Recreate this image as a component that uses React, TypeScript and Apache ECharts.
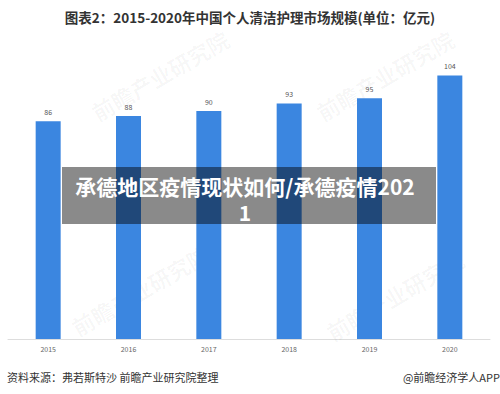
import React, { useEffect, useRef } from "react";
import * as echarts from "echarts";

const years = ["2015", "2016", "2017", "2018", "2019", "2020"];
const values = [86, 88, 90, 93, 95, 104];
const titleText = "图表2：2015-2020年中国个人清洁护理市场规模(单位：亿元)";
const bannerLines = ["承德地区疫情现状如何/承德疫情202", "1"];
const sourceText = "资料来源：弗若斯特沙 前瞻产业研究院整理";
const brandText = "@前瞻经济学人APP";
const watermarkText = "前瞻产业研究院";

const FONT = '"Noto Sans CJK SC", "Noto Sans", sans-serif';

export default function App() {
  const ref = useRef<HTMLDivElement>(null);
  useEffect(() => {
    if (!ref.current) return;
    const chart = echarts.init(ref.current, null, { renderer: "svg" });
    const wm = (x: number, y: number) => ({
      type: "text",
      x,
      y,
      rotation: Math.PI / 6,
      z: 1,
      silent: true,
      style: {
        text: watermarkText,
        fill: "rgba(0,0,0,0.035)",
        font: `bold 22px ${FONT}`,
        align: "center",
        verticalAlign: "middle",
      },
    });
    chart.setOption({
      animation: false,
      backgroundColor: "#ffffff",
      textStyle: { fontFamily: FONT },
      grid: { left: 8, right: 10, top: 35, bottom: 55 },
      xAxis: {
        type: "category",
        data: years,
        axisLine: { lineStyle: { color: "#dddddd" } },
        axisTick: { show: false },
        axisLabel: { color: "#666666", fontSize: 7, margin: 6 },
      },
      yAxis: {
        type: "value",
        min: 0,
        max: 120,
        show: false,
        splitLine: { show: false },
      },
      series: [
        {
          type: "bar",
          data: values,
          barWidth: 25,
          itemStyle: { color: "#3b86e0" },
          label: {
            show: true,
            position: "top",
            distance: 6,
            fontSize: 7,
            color: "#555555",
          },
        },
      ],
      graphic: [
        wm(160, 75),
        wm(385, 75),
        wm(140, 290),
        wm(395, 295),
        {
          type: "text",
          x: 250,
          y: 17,
          style: {
            text: titleText,
            fill: "#333333",
            font: `bold 13.5px ${FONT}`,
            align: "center",
            verticalAlign: "middle",
          },
        },
        {
          type: "rect",
          z: 100,
          shape: { x: 62, y: 167, width: 374, height: 57 },
          style: { fill: "rgba(0,0,0,0.46)" },
        },
        {
          type: "text",
          z: 101,
          x: 245,
          y: 199,
          style: {
            text: bannerLines.join("\n"),
            fill: "#ffffff",
            font: `bold 21px ${FONT}`,
            lineHeight: 26,
            align: "center",
            verticalAlign: "middle",
          },
        },
        {
          type: "text",
          x: 7,
          y: 377,
          style: {
            text: sourceText,
            fill: "#333333",
            font: `11px ${FONT}`,
            align: "left",
            verticalAlign: "middle",
          },
        },
        {
          type: "text",
          x: 500,
          y: 377,
          style: {
            text: brandText,
            fill: "#333333",
            font: `11px ${FONT}`,
            align: "right",
            verticalAlign: "middle",
          },
        },
      ],
    });
    return () => chart.dispose();
  }, []);
  return (
    <div
      ref={ref}
      style={{ position: "fixed", left: 0, top: 0, width: 500, height: 394 }}
    />
  );
}
